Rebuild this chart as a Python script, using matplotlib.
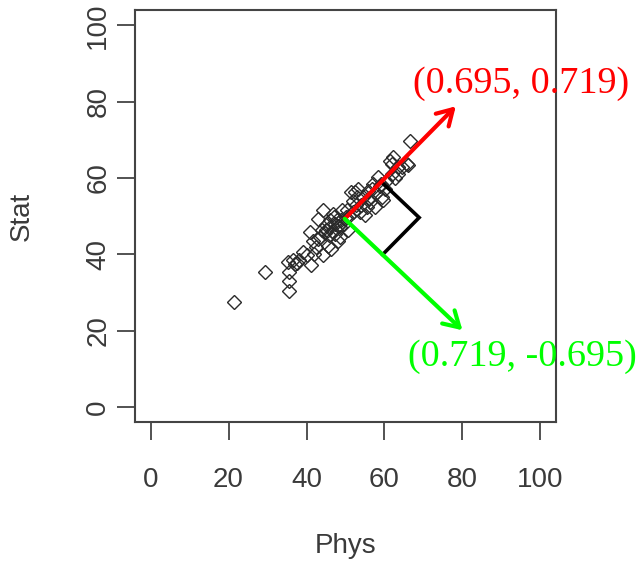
import numpy as np
import matplotlib
matplotlib.use("Agg")
import matplotlib.pyplot as plt
from matplotlib.patches import FancyArrowPatch

# exam scores
phys = [21.5, 29.4, 35.2, 36.5, 37.5, 35.5, 35.5, 35.6, 40.0, 41.2,
        40.8, 41.6, 42.5, 42.9, 44.2, 44.2, 45.5, 46.0, 46.4, 46.8,
        47.2, 48.1, 49.0, 45.1, 46.0, 47.7, 48.5, 50.7, 50.2, 51.5,
        52.4, 53.3, 52.8, 53.7, 54.5, 55.0, 55.4, 56.3, 57.1, 57.5,
        58.4, 59.3, 59.7, 60.1, 60.5, 61.8, 62.2, 61.8, 63.5, 63.5,
        65.7, 66.0, 66.5, 61.3, 44.8, 45.8, 46.5, 47.3, 48.0, 48.8,
        43.5, 44.0, 45.0, 47.0, 49.5, 50.5, 51.0, 52.0, 53.0, 54.0,
        55.8, 56.8, 57.8, 58.8, 38.0, 39.0, 43.0, 48.5, 51.8, 56.0,
        59.0, 62.8, 64.5, 37.0, 42.0]
stat = [27.5, 35.3, 38.0, 38.5, 37.8, 35.3, 33.0, 30.3, 39.7, 37.1,
        45.8, 43.6, 41.9, 49.3, 51.5, 39.7, 42.3, 47.1, 41.5, 50.6,
        45.4, 43.6, 51.5, 46.3, 48.9, 48.9, 47.1, 46.3, 49.7, 56.3,
        56.3, 57.2, 52.8, 51.0, 55.0, 50.2, 52.4, 53.7, 58.5, 52.4,
        60.2, 55.0, 54.1, 57.2, 59.3, 61.1, 65.4, 63.7, 62.8, 61.1,
        63.7, 63.4, 69.8, 64.5, 45.5, 45.0, 46.0, 48.0, 47.5, 49.0,
        44.5, 46.5, 47.8, 49.8, 48.0, 51.5, 50.0, 54.0, 55.0, 53.0,
        56.5, 57.0, 56.0, 58.0, 38.5, 40.5, 44.0, 44.5, 51.0, 54.8,
        58.5, 60.0, 63.0, 37.5, 40.0]

center = (49.8, 49.3)
pc1 = (0.695, 0.719)
pc2 = (0.719, -0.695)
len1 = 41
len2 = 42
corner = 13.5
label1 = "(0.695, 0.719)"
label2 = "(0.719, -0.695)"
label1_pos = (95.1, 84.6)
label2_pos = (95.4, 13.3)
ticks = [0, 20, 40, 60, 80, 100]

fig = plt.figure(figsize=(6.44, 5.62), dpi=100)
ax = fig.add_axes([0.2096, 0.2486, 0.6538, 0.7336])

ax.plot(phys, stat, linestyle="none", marker="D", markersize=7.3,
        markerfacecolor="none", markeredgecolor="#2a2a2a", markeredgewidth=1.0)

cx, cy = center
for vec, n, col in [(pc1, len1, "#ff0000"), (pc2, len2, "#00ff00")]:
    tip = (cx + n * vec[0], cy + n * vec[1])
    arr = FancyArrowPatch((cx, cy), tip,
                          arrowstyle="->,head_length=11,head_width=6.5",
                          mutation_scale=1, color=col, lw=3,
                          shrinkA=0, shrinkB=0, zorder=4)
    ax.add_patch(arr)

# right angle marker
p1 = (cx + corner * pc1[0], cy + corner * pc1[1])
p2 = (p1[0] + corner * pc2[0], p1[1] + corner * pc2[1])
p3 = (cx + corner * pc2[0], cy + corner * pc2[1])
ax.plot([p1[0], p2[0], p3[0]], [p1[1], p2[1], p3[1]], color="black",
        lw=2.6, solid_joinstyle="miter", zorder=3)

ax.text(*label1_pos, label1, color="#ff0000", fontsize=27.5,
        family="Liberation Serif", ha="center", va="center")
ax.text(*label2_pos, label2, color="#00ff00", fontsize=27.5,
        family="Liberation Serif", ha="center", va="center")

ax.set_xlim(-4, 104)
ax.set_ylim(-4, 104)
ax.set_xticks(ticks)
ax.set_yticks(ticks)
for s in ax.spines.values():
    s.set_color("#444444")
    s.set_linewidth(1.5)
ax.tick_params(direction="out", length=13, width=1.3, color="#444444",
               labelcolor="#3a3a3a", labelsize=20)
ax.tick_params(axis="x", pad=19)
ax.tick_params(axis="y", pad=4)
for t in ax.get_xticklabels() + ax.get_yticklabels():
    t.set_family("Liberation Sans")
plt.setp(ax.get_yticklabels(), rotation=90, va="center")

ax.set_xlabel("Phys", fontsize=20, family="Liberation Sans", color="#3a3a3a")
ax.set_ylabel("Stat", fontsize=20, family="Liberation Sans", color="#3a3a3a")
ax.xaxis.label.set_va("center")
ax.yaxis.label.set_va("center")
ax.xaxis.set_label_coords(0.5, -0.300)
ax.yaxis.set_label_coords(-0.268, 0.5)

fig.savefig("out.png", dpi=100)
